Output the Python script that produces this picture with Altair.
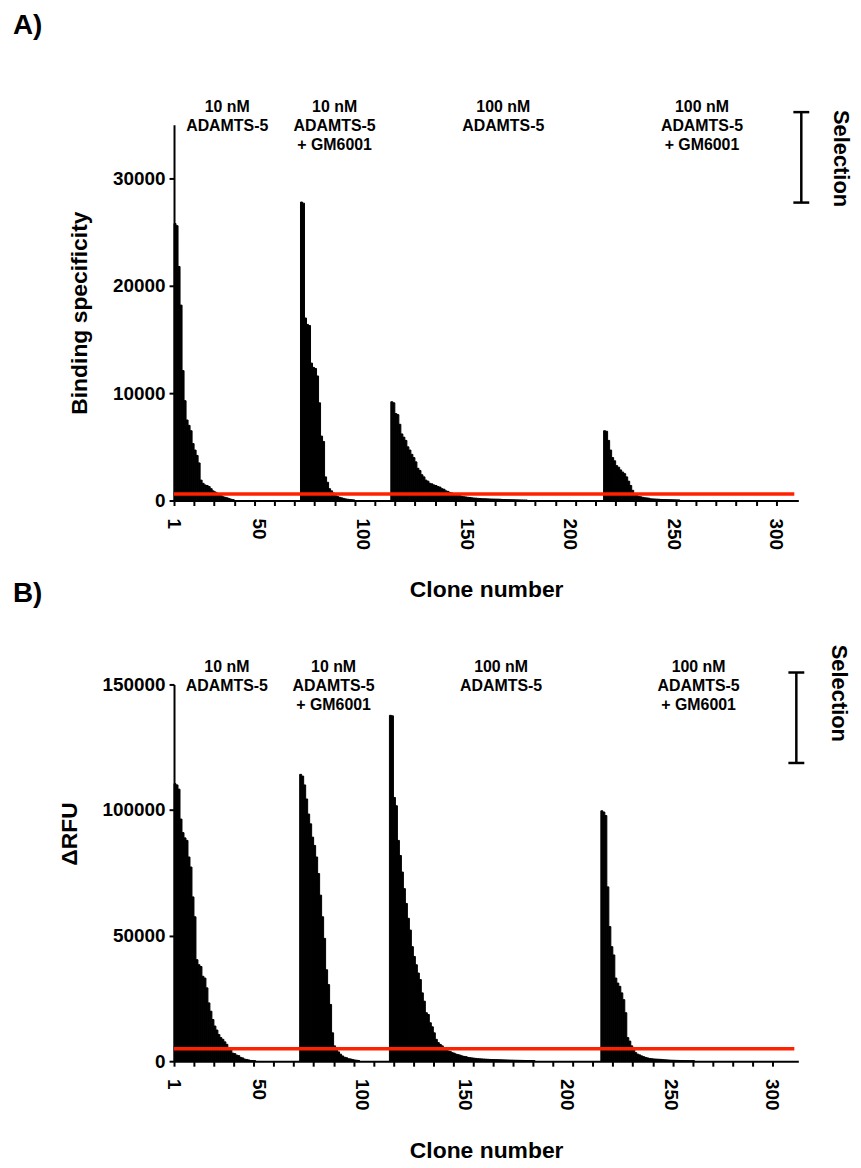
import altair as alt
import pandas as pd

# ---------------- data ----------------
# left edge (in clone-axis units) of the first clone of each selection group
group_starts = [0, 63, 108, 214]

group_line1 = ["10 nM", "10 nM", "100 nM", "100 nM"]
group_line2 = ["ADAMTS-5", "ADAMTS-5", "ADAMTS-5", "ADAMTS-5"]
group_line3 = ["", "+ GM6001", "", "+ GM6001"]
group_label_x = [26.5, 80, 164, 263]

# Panel A: binding specificity per clone (sorted within each group)
A_g1 = [25800, 25600, 21800, 18200, 12100, 9300, 7500, 7000, 6500, 5300, 4700, 4200,
        3500, 1900, 1600, 1450, 1400, 1300, 1100, 900, 800, 700, 600, 450, 350, 300,
        250, 180, 120, 80]
A_g2 = [27800, 27700, 17000, 16400, 16300, 12800, 12400, 12300, 11600, 9100, 6000, 5500,
        2200, 1700, 1100, 900, 700, 450, 380, 300, 250, 200, 150, 120, 100, 80, 60]
A_g3 = [9200, 9100, 8100, 8000, 7100, 6200, 5900, 5600, 5000, 4700, 4300, 4000, 3600,
        3000, 2800, 2400, 2200, 1900, 1800, 1600, 1550, 1450, 1400, 1300, 1250, 1100,
        1050, 900, 850, 750, 700, 550, 500, 480, 450, 380, 350, 330, 300, 280, 250, 230,
        220, 200, 190, 170, 165, 160, 150, 145, 140, 135, 130, 125, 120, 100, 95, 90, 85,
        80, 75, 70, 65, 60, 55, 52, 50, 48]
A_g4 = [6500, 6450, 5600, 4700, 4000, 3700, 3250, 3100, 2850, 2650, 2500, 2200, 1800,
        1400, 950, 580, 520, 380, 350, 300, 260, 240, 220, 160, 150, 140, 130, 120, 100,
        95, 90, 85, 80, 75, 70, 65, 60, 55]

# Panel B: delta RFU per clone
B_g1 = [110500, 110000, 108300, 96400, 91000, 88900, 87900, 81300, 77300, 65400, 57500,
        40400, 38400, 37700, 33800, 33100, 29200, 23200, 19900, 16600, 14000, 12400,
        10600, 9400, 8700, 7700, 6700, 5400, 4500, 3200, 3000, 2400, 2200, 1500, 1300,
        800, 700, 500, 300, 250, 200]
B_g2 = [114200, 113500, 110000, 104400, 98400, 94500, 89200, 85900, 81300, 74700, 66100,
        57500, 48900, 36400, 30500, 22600, 11300, 6100, 4700, 3700, 2800, 2100, 1600,
        1400, 1000, 900, 700, 500, 400, 300]
B_g3 = [137700, 137500, 105000, 101700, 87900, 81900, 75300, 68700, 62800, 56900, 52200,
        45600, 41700, 38400, 35100, 32500, 27200, 23900, 19300, 18600, 15300, 13700,
        11300, 8700, 7400, 6700, 6100, 5400, 4700, 4100, 3900, 3400, 3200, 2800, 2600,
        2400, 2100, 1900, 1800, 1500, 1400, 1300, 1200, 1100, 1000, 950, 900, 850, 800,
        750, 700, 680, 650, 620, 600, 580, 550, 520, 500, 480, 450, 430, 400, 380, 360,
        340, 320, 300, 280, 260, 250, 240, 230]
B_g4 = [99700, 99200, 97800, 69400, 53600, 45600, 42300, 33100, 31100, 29800, 27200,
        24500, 19300, 9400, 8000, 6100, 4500, 3400, 2800, 2500, 2100, 1800, 1500, 1300,
        1100, 1000, 900, 850, 800, 750, 700, 600, 550, 500, 450, 400, 380, 350, 320, 300,
        280, 260, 240, 220, 200, 200, 200]

# cut-off lines (value, end on clone axis)
A_cutoff = 600
A_cutoff_end = 309
B_cutoff = 5000
B_cutoff_end = 311

A_y_ticks = [0, 10000, 20000, 30000]
B_y_ticks = [0, 50000, 100000, 150000]
x_ticks = list(range(0, 301, 10))
# x tick labels as printed in the figure and where they sit along the clone axis
x_label_text = ["1", "50", "100", "150", "200", "250", "300"]
x_label_pos = [0, 42.5, 94, 146, 197, 249, 300]

FONT = "Liberation Sans"


def bars_frame(groups):
    rows = []
    for start, vals in zip(group_starts, groups):
        for i, v in enumerate(vals):
            rows.append({"x0": start + i, "x1": start + i + 1, "v": v})
    return pd.DataFrame(rows)


labels_df = pd.DataFrame({"xc": group_label_x, "l1": group_line1,
                          "l2": group_line2, "l3": group_line3})
xlab_df = pd.DataFrame({"pos": x_label_pos, "txt": x_label_text})
one = pd.DataFrame({"a": [0]})


def panel(groups, ymax, yticks, ytitle, ytitle_y, cutoff, cutoff_end, xmax, letter,
          width, height, lab_y, br_x, br_y1, br_y2, sel_x, sel_y, letter_y):
    xs = alt.Scale(domain=[0, xmax], nice=False, zero=False)
    ys = alt.Scale(domain=[0, ymax], nice=False)
    xaxis = alt.Axis(values=x_ticks, labels=False, titlePadding=73,
                     titleFontSize=23)
    yaxis = alt.Axis(values=yticks, format="d", titlePadding=21, labelPadding=4,
                     titleFontSize=23, titleY=ytitle_y)
    X = dict(scale=xs, axis=xaxis, title="Clone number")
    Y = dict(scale=ys, axis=yaxis, title=ytitle)

    bars = alt.Chart(bars_frame(groups)).mark_rect(
        color="black", stroke="black", strokeWidth=1
    ).encode(
        x=alt.X("x0:Q", **X),
        x2="x1:Q",
        y=alt.Y("v:Q", **Y),
        y2=alt.datum(0),
    )
    rule = alt.Chart(pd.DataFrame({"x0": [0], "x1": [cutoff_end], "v": [cutoff]})).mark_rule(
        color="#ff2200", strokeWidth=3.5
    ).encode(
        x=alt.X("x0:Q", **X),
        x2="x1:Q",
        y=alt.Y("v:Q", **Y),
    )
    xlabels = alt.Chart(xlab_df).mark_text(
        font=FONT, fontWeight="bold", fontSize=19, color="black", angle=90,
        align="left", baseline="middle"
    ).encode(
        x=alt.X("pos:Q", **X),
        y=alt.value(height + 18),
        text="txt:N",
    )
    txt = []
    for key, dy in zip(["l1", "l2", "l3"], lab_y):
        txt.append(
            alt.Chart(labels_df).mark_text(
                font=FONT, fontWeight="bold", fontSize=16, color="black",
                align="center", baseline="middle"
            ).encode(
                x=alt.X("xc:Q", **X),
                y=alt.value(dy),
                text=f"{key}:N",
            )
        )
    br_v = alt.Chart(one).mark_rule(color="black", strokeWidth=2.5).encode(
        x=alt.value(br_x), y=alt.value(br_y1), y2=alt.value(br_y2))
    br_t = alt.Chart(one).mark_rule(color="black", strokeWidth=2.5).encode(
        x=alt.value(br_x - 8), x2=alt.value(br_x + 8), y=alt.value(br_y1))
    br_b = alt.Chart(one).mark_rule(color="black", strokeWidth=2.5).encode(
        x=alt.value(br_x - 8), x2=alt.value(br_x + 8), y=alt.value(br_y2))
    sel = alt.Chart(one).mark_text(
        font=FONT, fontWeight="bold", fontSize=22, color="black", angle=90,
        align="center", baseline="middle"
    ).encode(x=alt.value(sel_x), y=alt.value(sel_y), text=alt.value("Selection"))
    let = alt.Chart(one).mark_text(
        font=FONT, fontWeight="bold", fontSize=28, color="black",
        align="left", baseline="middle"
    ).encode(x=alt.value(-162), y=alt.value(letter_y), text=alt.value(letter))

    return alt.layer(bars, rule, xlabels, *txt, br_v, br_t, br_b, sel, let).properties(
        width=width, height=height)


chart_a = panel([A_g1, A_g2, A_g3, A_g4], 35000, A_y_ticks, "Binding specificity", 189,
                A_cutoff, A_cutoff_end, 311, "A)", 628, 378,
                [-18, 1.5, 20.5], 631, -12.7, 78.3, 671, 34, -99)
chart_b = panel([B_g1, B_g2, B_g3, B_g4], 150000, B_y_ticks, "\u0394RFU", 150,
                B_cutoff, B_cutoff_end, 313, "B)", 628, 379,
                [-18, 2, 21], 626, -12, 79, 669, 9, -91)

chart = alt.vconcat(chart_a, chart_b, spacing=185, bounds="flush").properties(
    padding={"left": 5, "top": 1, "right": 1, "bottom": 5}
).configure_view(stroke=None).configure_axis(
    grid=False,
    domainColor="black", domainWidth=2,
    tickColor="black", tickWidth=2, tickSize=5,
    labelFont=FONT, labelFontWeight="bold", labelFontSize=19, labelColor="black",
    titleFont=FONT, titleFontWeight="bold", titleFontSize=22, titleColor="black",
)

chart.save("out.html", embed_options={"renderer": "svg", "actions": False})
